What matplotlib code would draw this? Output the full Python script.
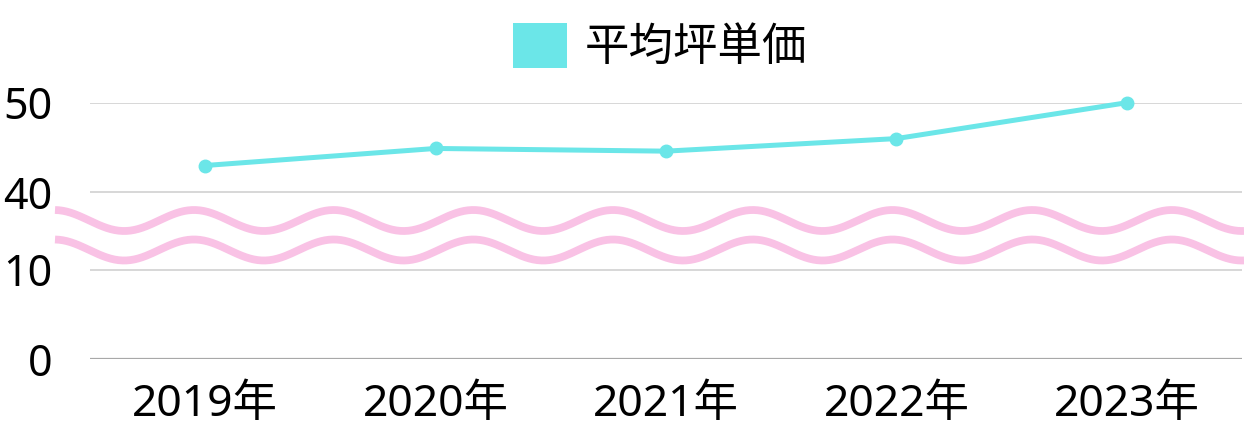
import matplotlib
matplotlib.use("Agg")
import matplotlib.pyplot as plt
from matplotlib.patches import Patch
from matplotlib.ticker import FixedLocator
import numpy as np

plt.rcParams['font.family'] = ['Noto Sans', 'Noto Sans CJK JP', 'DejaVu Sans']

# data
years = ["2019年", "2020年", "2021年", "2022年", "2023年"]
avg_price = [43.0, 44.9, 44.6, 46.0, 50.0]
yticks = [0, 10, 40, 50]
series_name = "平均坪単価"

# broken axis: 0-10 and 40-50, with a gap in between
low_top = 10
high_bottom = 40
gap = 8.6


def forward(v):
    v = np.asarray(v, dtype=float)
    return np.where(v <= low_top, v,
                    np.where(v >= high_bottom, v - high_bottom + low_top + gap,
                             low_top + (v - low_top) / (high_bottom - low_top) * gap))


def inverse(t):
    t = np.asarray(t, dtype=float)
    return np.where(t <= low_top, t,
                    np.where(t >= low_top + gap, t - low_top - gap + high_bottom,
                             low_top + (t - low_top) / gap * (high_bottom - low_top)))


W, H = 1244, 429
fig = plt.figure(figsize=(W / 100, H / 100), dpi=100)
ax = fig.add_axes([90 / W, (H - 359.3) / H, (1242 - 90) / W, (359.3 - 102.7) / H])

line_color = "#6be6e8"
x = np.arange(len(years))
ax.plot(x, avg_price, color=line_color, lw=3.6, marker="o", ms=9,
        solid_capstyle="round", clip_on=False, zorder=3)

ax.set_yscale("function", functions=(forward, inverse))
ax.set_ylim(0, 50)
ax.set_xlim(-0.5, len(years) - 0.5)
ax.yaxis.set_major_locator(FixedLocator(yticks))
ax.set_yticks(yticks)
ax.set_yticklabels([str(v) for v in yticks])
ax.set_xticks(x)
ax.set_xticklabels(years)
ax.tick_params(axis="y", length=0, pad=27, labelsize=31)
ax.tick_params(axis="x", length=0, pad=17, labelsize=32)

ax.grid(axis="y", color="#d4d4d4", lw=1.3)
ax.set_axisbelow(True)
for s in ax.spines.values():
    s.set_visible(False)
ax.axhline(0, color="#a8a8a8", lw=1.6, zorder=1)

# wavy "break" marks, drawn in figure pixels
deco = fig.add_axes([0, 0, 1, 1], zorder=5)
deco.set_xlim(0, W)
deco.set_ylim(H, 0)
deco.axis("off")
xs = np.linspace(55, W, 600)
period = 139.7
for yc in (220.5, 250.0):
    ys = yc - 10.5 * np.cos(2 * np.pi * (xs - 54.3) / period)
    deco.plot(xs, ys, color="#f9c2e5", lw=5.6, solid_capstyle="butt")

handle = Patch(facecolor=line_color, edgecolor="none")
fig.legend([handle], [series_name], loc="center",
           bbox_to_anchor=(660 / W, 1 - 47 / H), frameon=False,
           fontsize=32, handlelength=1.2, handleheight=1.2,
           handletextpad=0.4, borderpad=0)

fig.savefig("out.png", dpi=100)
